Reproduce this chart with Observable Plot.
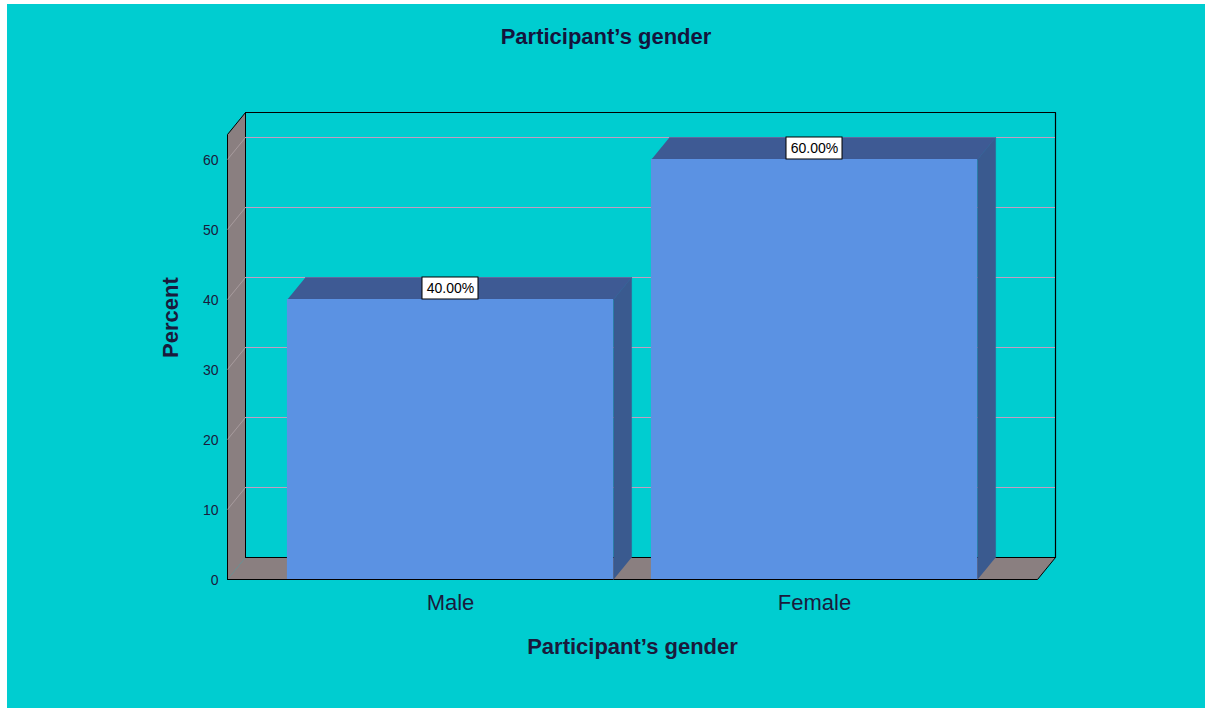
<!DOCTYPE html>
<html>
<head>
<meta charset="utf-8">
<script src="https://cdn.jsdelivr.net/npm/d3@7"></script>
<script src="https://cdn.jsdelivr.net/npm/@observablehq/plot@0.6"></script>
<style>
  html, body { margin: 0; padding: 0; background: #ffffff; }
  #panel {
    position: absolute; left: 7px; top: 4px; width: 1198px; height: 704px;
    background: #00cdd0; font-family: "Liberation Sans", Arial, sans-serif;
  }
  #title {
    height: 60px; display: flex; align-items: center; justify-content: center;
    font-size: 22px; font-weight: bold; color: #14143c; padding-top: 6px; box-sizing: border-box;
  }
</style>
</head>
<body>
<div id="panel">
  <div id="title">Participant’s gender</div>
  <div id="chart"></div>
</div>
<script>
// Gender distribution of participants, in percent
const categories = ["Male", "Female"];
const percents = [40, 60];
const yTicks = [0, 10, 20, 30, 40, 50, 60];

// Layout
const W = 1198, H = 644;
const ML = 220, MR = 168, MT = 70, MB = 129;
const X0 = -0.6126, X1 = 1.6126;    // category index domain (floor extent)
const YMAX = 63.57;
const HALF = 0.448;                 // half bar width, in index units
const DEPTH_X = 18, DEPTH_Y = 22;   // 3-D depth offset in pixels

const pxX = (W - ML - MR) / (X1 - X0);
const pxY = (H - MT - MB) / YMAX;
const du = DEPTH_X / pxX;           // depth offset in x units
const dv = DEPTH_Y / pxY;           // depth offset in y units

const rows = categories.map((c, i) => ({cat: c, i, v: percents[i]}));

const poly = (id, pts) => pts.map(([x, y]) => ({id, x, y}));

const leftWall = poly("wall", [[X0, 0], [X0, YMAX], [X0 + du, YMAX + dv], [X0 + du, dv]]);
const floor = poly("floor", [[X0, 0], [X1, 0], [X1 + du, dv], [X0 + du, dv]]);
const backEdge = poly("back", [[X0 + du, YMAX + dv], [X1 + du, YMAX + dv], [X1 + du, dv]]);

const topFaces = rows.flatMap(r => poly(r.cat, [
  [r.i - HALF, r.v], [r.i + HALF, r.v], [r.i + HALF + du, r.v + dv], [r.i - HALF + du, r.v + dv]
]));
const sideFaces = rows.flatMap(r => poly(r.cat, [
  [r.i + HALF, 0], [r.i + HALF, r.v], [r.i + HALF + du, r.v + dv], [r.i + HALF + du, dv]
]));

const boxHalf = 28 / pxX;
const wallGray = "#8a7f80";
const inkColor = "#1a1a3c";

const chart = Plot.plot({
  width: W,
  height: H,
  marginLeft: ML,
  marginRight: MR,
  marginTop: MT,
  marginBottom: MB,
  style: {background: "transparent", fontFamily: "'Liberation Sans', Arial, sans-serif", overflow: "visible"},
  x: {type: "linear", domain: [X0, X1]},
  y: {domain: [0, YMAX]},
  marks: [
    // walls and floor
    Plot.line(leftWall, {x: "x", y: "y", z: "id", fill: wallGray, stroke: "#000", strokeWidth: 1}),
    Plot.line(floor, {x: "x", y: "y", z: "id", fill: wallGray, stroke: "#000", strokeWidth: 1}),
    Plot.line(backEdge, {x: "x", y: "y", z: "id", stroke: "#000", strokeWidth: 1.2}),
    // gridlines on the back wall and the left wall
    Plot.ruleY(yTicks.filter(t => t > 0), {y: t => t, x1: () => X0, x2: () => X1, dx: DEPTH_X, dy: -DEPTH_Y, stroke: "#c89ac0", strokeWidth: 1}),
    Plot.link(yTicks.filter(t => t > 0), {x1: () => X0, y1: t => t, x2: () => X0 + du, y2: t => t + dv, stroke: "#a89c9e", strokeWidth: 1}),
    // bars: side, top, front
    Plot.line(sideFaces, {x: "x", y: "y", z: "id", fill: "#3a5a8f", stroke: "#3a5a8f", strokeWidth: 0.5}),
    Plot.line(topFaces, {x: "x", y: "y", z: "id", fill: "#3e5a94", stroke: "#3e5a94", strokeWidth: 0.5}),
    Plot.rect(rows, {x1: r => r.i - HALF, x2: r => r.i + HALF, y1: () => 0, y2: "v", fill: "#5b92e3"}),
    // value labels
    Plot.rect(rows, {x1: r => r.i - boxHalf, x2: r => r.i + boxHalf, y1: "v", y2: r => r.v + dv, fill: "#ffffff", stroke: "#000", strokeWidth: 1}),
    Plot.text(rows, {x: "i", y: r => r.v + dv / 2, text: r => r.v.toFixed(2) + "%", fontSize: 14, fill: "#000"}),
    // axes
    Plot.axisY(yTicks, {tickSize: 0, tickPadding: 9, dy: 1, fontSize: 14, fill: inkColor, label: null}),
    Plot.axisX(rows.map(r => r.i), {tickSize: 0, tickPadding: 15, fontSize: 22, fill: inkColor, label: null,
      tickFormat: i => categories[i]}),
    Plot.text(["Percent"], {frameAnchor: "left", dx: -57, dy: 1, rotate: -90, fontSize: 22, fontWeight: "bold", fill: inkColor}),
    Plot.text(["Participant’s gender"], {frameAnchor: "bottom", dy: 74, fontSize: 22, fontWeight: "bold", fill: inkColor})
  ]
});

document.getElementById("chart").appendChild(chart);
</script>
</body>
</html>
